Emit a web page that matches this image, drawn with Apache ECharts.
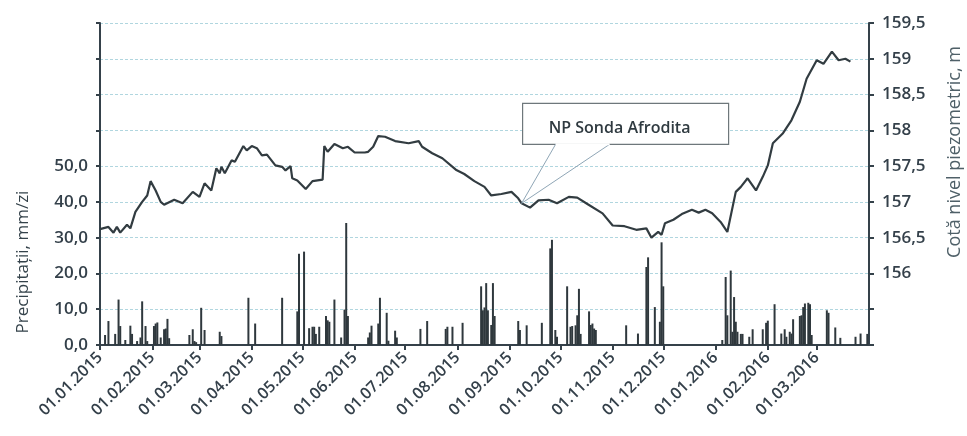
<!DOCTYPE html>
<html>
<head>
<meta charset="utf-8">
<script src="https://cdn.jsdelivr.net/npm/echarts@6/dist/echarts.min.js"></script>
<style>
	html, body {margin:0; padding:0; background:#fff;}
	#chart {width:967px; height:436px;}
</style>
</head>
<body>
<div id="chart"></div>
<script>
//nivel piezometric, m
var lineDates = ['2015-01-01','2015-01-02','2015-01-06','2015-01-09','2015-01-11','2015-01-13','2015-01-17','2015-01-19','2015-01-22','2015-01-26',
	'2015-01-29','2015-01-31','2015-02-03','2015-02-06','2015-02-08','2015-02-14','2015-02-19','2015-02-25','2015-03-01','2015-03-04',
	'2015-03-08','2015-03-11','2015-03-13','2015-03-14','2015-03-16','2015-03-20','2015-03-22','2015-03-27','2015-03-29','2015-04-01',
	'2015-04-04','2015-04-07','2015-04-10','2015-04-15','2015-04-19','2015-04-21','2015-04-24','2015-04-25','2015-04-28','2015-05-03',
	'2015-05-07','2015-05-13','2015-05-14','2015-05-16','2015-05-20','2015-05-25','2015-05-28','2015-06-01','2015-06-07','2015-06-09',
	'2015-06-12','2015-06-15','2015-06-19','2015-06-25','2015-07-03','2015-07-09','2015-07-11','2015-07-17','2015-07-23','2015-07-31',
	'2015-08-05','2015-08-11','2015-08-17','2015-08-21','2015-08-27','2015-09-02','2015-09-06','2015-09-08','2015-09-13','2015-09-18',
	'2015-09-24','2015-09-29','2015-10-06','2015-10-11','2015-10-17','2015-10-26','2015-11-01','2015-11-08','2015-11-15','2015-11-21',
	'2015-11-24','2015-11-28','2015-11-30','2015-12-02','2015-12-07','2015-12-12','2015-12-18','2015-12-22','2015-12-26','2015-12-30',
	'2016-01-04','2016-01-08','2016-01-13','2016-01-16','2016-01-20','2016-01-25','2016-01-29','2016-02-01','2016-02-04','2016-02-10',
	'2016-02-15','2016-02-20','2016-02-24','2016-03-01','2016-03-05','2016-03-10','2016-03-14','2016-03-18','2016-03-21'];
var lineValues = [156.62,156.63,156.65,156.57,156.65,156.57,156.68,156.63,156.86,157.00,
	157.09,157.29,157.16,157.00,156.96,157.03,156.98,157.14,157.07,157.26,
	157.16,157.47,157.40,157.49,157.40,157.58,157.56,157.78,157.72,157.78,
	157.75,157.65,157.66,157.51,157.49,157.44,157.50,157.33,157.30,157.18,
	157.29,157.31,157.78,157.70,157.81,157.75,157.77,157.69,157.69,157.70,
	157.77,157.92,157.91,157.85,157.82,157.85,157.77,157.68,157.61,157.45,
	157.39,157.29,157.21,157.09,157.11,157.14,157.05,156.98,156.92,157.02,
	157.03,156.98,157.07,157.06,156.97,156.84,156.67,156.66,156.61,156.63,
	156.50,156.58,156.54,156.70,156.75,156.83,156.89,156.85,156.89,156.84,
	156.72,156.58,157.14,157.21,157.33,157.16,157.35,157.51,157.82,157.96,
	158.14,158.40,158.72,158.98,158.93,159.10,158.98,159.00,158.96];

//precipitatii, mm/zi
var rainDates = ['2015-01-04','2015-01-06','2015-01-10','2015-01-12','2015-01-13','2015-01-16','2015-01-19','2015-01-20','2015-01-23','2015-01-25',
	'2015-01-26','2015-01-28','2015-01-29','2015-02-02','2015-02-03','2015-02-04','2015-02-06','2015-02-08','2015-02-09','2015-02-10',
	'2015-02-11','2015-02-23','2015-02-25','2015-02-26','2015-02-27','2015-03-02','2015-03-04','2015-03-13','2015-03-14','2015-03-30',
	'2015-04-03','2015-04-19','2015-04-28','2015-04-29','2015-05-02','2015-05-05','2015-05-07','2015-05-08','2015-05-09','2015-05-11',
	'2015-05-15','2015-05-16','2015-05-17','2015-05-20','2015-05-24','2015-05-26','2015-05-27','2015-05-28','2015-06-09','2015-06-10',
	'2015-06-11','2015-06-15','2015-06-16','2015-06-20','2015-06-21','2015-06-25','2015-06-26','2015-07-10','2015-07-14','2015-07-25',
	'2015-07-26','2015-07-29','2015-08-04','2015-08-15','2015-08-16','2015-08-17','2015-08-18','2015-08-19','2015-08-21','2015-08-22',
	'2015-08-23','2015-09-06','2015-09-07','2015-09-11','2015-09-20','2015-09-25','2015-09-26','2015-09-28','2015-09-29','2015-10-05',
	'2015-10-07','2015-10-08','2015-10-10','2015-10-11','2015-10-12','2015-10-13','2015-10-18','2015-10-19','2015-10-20','2015-10-21',
	'2015-10-22','2015-11-09','2015-11-16','2015-11-21','2015-11-22','2015-11-26','2015-11-29','2015-11-30','2015-12-01','2016-01-05',
	'2016-01-07','2016-01-08','2016-01-10','2016-01-11','2016-01-12','2016-01-13','2016-01-14','2016-01-16','2016-01-17','2016-01-21',
	'2016-01-23','2016-01-29','2016-01-31','2016-02-01','2016-02-05','2016-02-09','2016-02-11','2016-02-12','2016-02-14','2016-02-15',
	'2016-02-16','2016-02-20','2016-02-21','2016-02-22','2016-02-23','2016-02-25','2016-02-26','2016-02-27','2016-03-07','2016-03-08',
	'2016-03-12','2016-03-15','2016-03-24','2016-03-27','2016-03-31'];
var rainValues = [2.8,6.7,3.1,12.7,5.3,1.4,5.4,3.1,1.1,2.1,
	12.2,5.3,1.1,5.3,6.0,6.3,2.1,4.4,4.6,7.3,
	1.9,2.8,4.4,1.1,0.8,10.4,4.2,3.7,2.5,13.2,
	6.0,13.2,9.4,25.5,26.1,4.7,5.1,5.1,3.1,5.1,
	8.1,6.9,6.5,12.7,2.1,9.9,34.1,8.1,2.1,3.5,
	5.4,6.0,13.2,9.0,1.2,4.0,2.1,4.5,6.7,4.5,
	5.1,5.1,6.2,16.4,9.7,10.5,17.3,9.7,5.6,17.3,
	8.1,6.7,4.2,5.5,6.2,27.0,29.4,4.2,2.3,16.4,
	5.1,5.3,5.5,8.3,15.7,3.1,9.4,5.6,6.0,4.6,
	4.2,5.5,3.2,21.8,24.5,10.6,6.5,28.7,16.4,1.4,
	19.0,8.3,20.8,3.7,13.4,6.5,3.7,3.1,3.1,2.3,
	4.4,4.4,6.2,6.8,11.4,3.2,4.4,2.3,3.7,3.2,
	7.2,8.1,8.3,10.6,11.6,11.8,11.4,2.8,9.7,9.0,
	4.9,2.0,2.3,3.2,3.1];

var monthTicks = ['2015-01-01','2015-02-01','2015-03-01','2015-04-01','2015-05-01','2015-06-01','2015-07-01','2015-08-01',
	'2015-09-01','2015-10-01','2015-11-01','2015-12-01','2016-01-01','2016-02-01','2016-03-01'];
var calloutDate = '2015-09-08';
var calloutText = 'NP Sonda Afrodita';

var dark = '#35414a';
var labelColor = '#34404a';
//zile -> timestamp (ora locala)
var tms = function(s){
	var p = s.split('-');
	return new Date(+p[0], +p[1] - 1, +p[2]).getTime();
};
var pad = function(n){ return n < 10 ? '0' + n : '' + n; };

var myChart = echarts.init(document.getElementById('chart'));

var option = {
	animation:false,
	backgroundColor:'#fff',
	grid:{left:100, right:98, top:23, bottom:91},
	xAxis:{
		type:'value',
		min:tms('2015-01-01'),
		max:tms('2016-04-01'),
		axisLine:{lineStyle:{color:dark, width:2}},
		axisTick:{show:true, length:5, lineStyle:{color:dark, width:2}, customValues:monthTicks.map(tms)},
		splitLine:{show:false},
		axisLabel:{
			customValues:monthTicks.map(tms),
			rotate:45, margin:10, color:labelColor,
			fontFamily:'Open Sans', fontWeight:600, fontSize:16,
			formatter:function(v){
				var d = new Date(v);
				return pad(d.getDate()) + '.' + pad(d.getMonth() + 1) + '.' + d.getFullYear();
			}
		}
	},
	yAxis:[{
		type:'value', min:0, max:90, interval:10,
		axisLine:{show:true, lineStyle:{color:dark, width:2}},
		axisTick:{show:true, length:4, lineStyle:{color:dark, width:2}},
		splitLine:{show:true, lineStyle:{color:'#b0d6df', type:[3,2], width:1}},
		axisLabel:{
			margin:12, color:labelColor, fontFamily:'Open Sans', fontWeight:600, fontSize:17,
			formatter:function(v){ return v <= 50 ? v.toFixed(1).replace('.', ',') : ''; }
		}
	},{
		type:'value', min:155, max:159.5, interval:0.5, position:'right',
		axisLine:{show:true, lineStyle:{color:dark, width:2}},
		axisTick:{show:true, length:5, lineStyle:{color:dark, width:2}},
		splitLine:{show:false},
		axisLabel:{
			margin:13, color:labelColor, fontFamily:'Open Sans', fontWeight:600, fontSize:17,
			formatter:function(v){ return v >= 156 ? String(v).replace('.', ',') : ''; }
		}
	}],
	series:[{
		name:'Precipitații',
		type:'bar',
		yAxisIndex:0,
		barWidth:2,
		itemStyle:{color:'#2f383d'},
		data:rainDates.map(function(d, i){ return [tms(d), rainValues[i]]; })
	},{
		name:calloutText,
		type:'line',
		yAxisIndex:1,
		showSymbol:false,
		z:3,
		lineStyle:{color:'#323c41', width:2.2},
		data:lineDates.map(function(d, i){ return [tms(d), lineValues[i]]; })
	}]
};
myChart.setOption(option);

//callout + nume axe
var tip = myChart.convertToPixel({seriesIndex:1}, [tms(calloutDate), lineValues[lineDates.indexOf(calloutDate)]]);
var bx = tip[0] + 1, by = tip[1] - 100, bw = 206, bh = 41;
myChart.setOption({
	graphic:[
		{type:'rect', shape:{x:bx, y:by, width:bw, height:bh}, style:{fill:'#fff', stroke:'#6e777b', lineWidth:1.2}, z:10},
		{type:'line', shape:{x1:tip[0] + 34, y1:by + bh, x2:tip[0], y2:tip[1]}, style:{stroke:'#8fa6b6', lineWidth:1}, z:10},
		{type:'line', shape:{x1:tip[0] + 88, y1:by + bh, x2:tip[0], y2:tip[1]}, style:{stroke:'#8fa6b6', lineWidth:1}, z:10},
		{type:'line', shape:{x1:tip[0] + 34, y1:by + bh, x2:tip[0] + 88, y2:by + bh}, style:{stroke:'#fff', lineWidth:2}, z:11},
		{type:'text', x:tip[0] + 98, y:tip[1] - 75, z:12,
			style:{text:calloutText, fill:'#2f3a40', font:'600 16px "Open Sans"', textAlign:'center', textVerticalAlign:'middle'}},
		{type:'text', x:23, y:262, rotation:Math.PI / 2, z:12,
			style:{text:'Precipitații, mm/zi', fill:'#34424a', font:'17px "Open Sans"', textAlign:'center', textVerticalAlign:'middle'}},
		{type:'text', x:955, y:152, rotation:Math.PI / 2, z:12,
			style:{text:'Cotă nivel piezometric, m', fill:'#4f6068', font:'18px "Open Sans"', textAlign:'center', textVerticalAlign:'middle'}}
	]
});
</script>
</body>
</html>
